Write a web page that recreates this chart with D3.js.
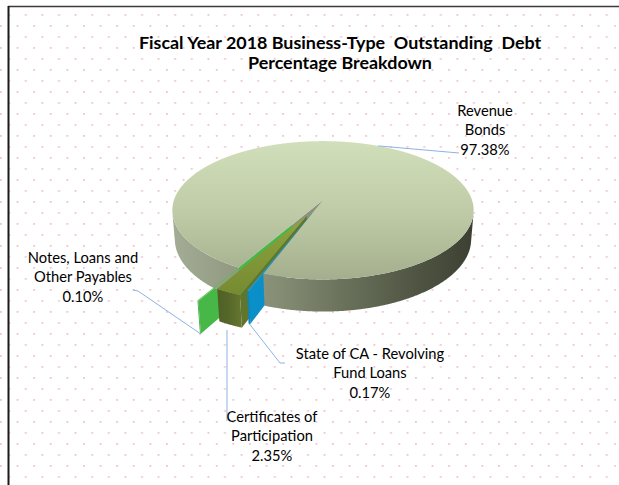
<!DOCTYPE html>
<html lang="en">
<head>
<meta charset="UTF-8">
<title>Fiscal Year 2018 Business-Type Outstanding Debt</title>
<script src="https://d3js.org/d3.v7.min.js"></script>
<style>
    body { margin: 0; background: #fff; }
    svg { display: block; font-family: Lato, "Open Sans", sans-serif; }
</style>
</head>
<body>
<svg width="619" height="485"></svg>
<script>
    // slices in clockwise order
    const categories = ["Revenue Bonds", "State of CA - Revolving Fund Loans", "Certificates of Participation", "Notes, Loans and Other Payables"];
    const shares = [97.38, 0.17, 2.35, 0.10];
    const labelLines = [["Revenue", "Bonds"], ["State of CA - Revolving", "Fund Loans"], ["Certificates of", "Participation"], ["Notes, Loans and", "Other Payables"]];
    const titleLines = ["Fiscal Year 2018 Business-Type  Outstanding  Debt", "Percentage Breakdown"];

    const deg = Math.PI / 180;
    const svg = d3.select("svg");
    const defs = svg.append("defs");

    // perspective view of the pie (unit radius, top face at h = 0)
    const cx = 323, cy = 200, R = 149, dist = 6, depth = 0.22;
    const sT = Math.sin(27 * deg), cT = Math.cos(27 * deg);
    function proj(u, v, h) {
        const k = dist / (dist - v * cT - h * sT);
        return [cx + R * u * k, cy + R * (v * sT - h * cT) * k];
    }

    // background: white with pink dot pattern, frame lines
    const pat = defs.append("pattern").attr("id", "dots")
        .attr("patternUnits", "userSpaceOnUse").attr("width", 16.6).attr("height", 22);
    pat.append("rect").attr("x", 0).attr("y", 3).attr("width", 1.8).attr("height", 1.8).attr("fill", "#efc3cd");
    pat.append("rect").attr("x", 8.3).attr("y", 14).attr("width", 1.8).attr("height", 1.8).attr("fill", "#efc3cd");
    svg.append("rect").attr("width", 619).attr("height", 485).attr("fill", "#fff");
    svg.append("rect").attr("y", 7).attr("width", 619).attr("height", 478).attr("fill", "url(#dots)");
    svg.append("line").attr("x1", 8).attr("x2", 619).attr("y1", 6.5).attr("y2", 6.5)
        .attr("stroke", "#3a3a3a").attr("stroke-width", 1.5);
    svg.append("line").attr("x1", 8.5).attr("x2", 8.5).attr("y1", 6).attr("y2", 485)
        .attr("stroke", "#1a1a1a").attr("stroke-width", 2);

    function linGrad(id, x1, y1, x2, y2, stops) {
        const g = defs.append("linearGradient").attr("id", id).attr("gradientUnits", "userSpaceOnUse")
            .attr("x1", x1).attr("y1", y1).attr("x2", x2).attr("y2", y2);
        stops.forEach(s => g.append("stop").attr("offset", s[0]).attr("stop-color", s[1]));
    }
    linGrad("rbTop", 0, 140, 0, 285, [[0, "#d2dfbb"], [0.5, "#bfcba7"], [1, "#a2ac8b"]]);
    linGrad("rbWall", 172, 0, 475, 0, [[0, "#a3ac94"], [0.35, "#858d75"], [0.65, "#606752"], [1, "#3b3f31"]]);
    linGrad("certTop", 0, 215, 0, 295, [[0, "#8ea53f"], [1, "#768a31"]]);
    linGrad("certWall", 212, 0, 242, 0, [[0, "#4d5d23"], [0.55, "#56672a"], [1, "#65772f"]]);

    const styles = [
        { top: "url(#rbTop)", wall: "url(#rbWall)", face: "#8c927c", explode: 0 },
        { top: "#1b9bd2", wall: "#0a86bd", face: "#0b8fc8", explode: 0.2 },
        { top: "url(#certTop)", wall: "url(#certWall)", face: "#62752d", explode: 0.25 },
        { top: "#58c04e", wall: "#3fae45", face: "#47b747", explode: 0.4 }
    ];

    // turn the pie so the certificates slice points to the lower left
    const total = d3.sum(shares);
    const startAngle = (205 - 360 * (shares[0] + shares[1] + shares[2] / 2) / total) * deg;
    const arcs = d3.pie().sort(null).value(d => d)
        .startAngle(startAngle).endAngle(startAngle + 2 * Math.PI)(shares);
    arcs.forEach((d, i) => {
        d.mid = (d.startAngle + d.endAngle) / 2;
        const e = styles[i].explode;
        d.off = [e * Math.sin(d.mid), -e * Math.cos(d.mid)];
    });

    function pt(d, r, a, h) {
        return proj(d.off[0] + r * Math.sin(a), d.off[1] - r * Math.cos(a), h);
    }
    function sweep(a0, a1) {
        const n = Math.max(2, Math.ceil(Math.abs(a1 - a0) / (0.25 * deg)));
        return d3.range(n + 1).map(i => a0 + (a1 - a0) * i / n);
    }
    const line = d3.line();

    function topPath(d) {
        return line([pt(d, 0, 0, 0)].concat(sweep(d.startAngle, d.endAngle).map(a => pt(d, 1, a, 0)))) + "Z";
    }
    function facePath(d, a) {
        return line([pt(d, 0, a, 0), pt(d, 1, a, 0), pt(d, 1, a, -depth), pt(d, 0, a, -depth)]) + "Z";
    }
    // outer wall, only the stretches that face the camera
    function wallPaths(d) {
        const seen = a => {
            const n = [Math.sin(a), -Math.cos(a)];
            return dist * cT * n[1] - (d.off[0] * n[0] + d.off[1] * n[1] + 1) > 0;
        };
        const runs = [];
        let cur = null;
        sweep(d.startAngle, d.endAngle).forEach(a => {
            if (seen(a)) { if (!cur) { cur = []; runs.push(cur); } cur.push(a); }
            else cur = null;
        });
        return runs.filter(r => r.length > 1).map(r =>
            line(r.map(a => pt(d, 1, a, 0)).concat(r.slice().reverse().map(a => pt(d, 1, a, -depth)))) + "Z");
    }

    const pieG = svg.append("g");
    const [rb, state, cert, notes] = arcs;

    function drawWalls(d, i) {
        wallPaths(d).forEach(p => pieG.append("path").attr("d", p).attr("fill", styles[i].wall));
    }

    // back to front: cut faces first, then the big slice, then the exploded ones
    pieG.append("path").attr("d", facePath(rb, rb.startAngle)).attr("fill", styles[0].face);
    pieG.append("path").attr("d", facePath(notes, notes.startAngle)).attr("fill", styles[3].face);
    pieG.append("path").attr("d", facePath(cert, cert.startAngle)).attr("fill", styles[2].face);
    pieG.append("path").attr("d", facePath(state, state.startAngle)).attr("fill", styles[1].face);
    drawWalls(rb, 0);
    pieG.append("path").attr("d", topPath(rb)).attr("fill", styles[0].top);
    drawWalls(state, 1);
    pieG.append("path").attr("d", topPath(state)).attr("fill", styles[1].top);
    drawWalls(notes, 3);
    pieG.append("path").attr("d", topPath(notes)).attr("fill", styles[3].top);
    drawWalls(cert, 2);
    pieG.append("path").attr("d", topPath(cert)).attr("fill", styles[2].top);

    // fit font sizes to the reference text widths
    function fitSize(text, weight, target, base) {
        const t = svg.append("text").attr("font-size", base).attr("font-weight", weight)
            .style("white-space", "pre").text(text);
        const w = t.node().getComputedTextLength();
        t.remove();
        return base * target / w;
    }
    const titleSize = fitSize(titleLines[1], "bold", 184, 18);
    const labelSize = fitSize("Certificates of", "normal", 91, 16);

    svg.append("g").selectAll("text").data(titleLines).join("text")
        .attr("x", 340).attr("y", (d, i) => 49 + i * 20)
        .attr("text-anchor", "middle").attr("font-weight", "bold")
        .attr("font-size", titleSize).attr("fill", "#000")
        .style("white-space", "pre").text(d => d);

    // labels: centre x, first baseline, leader line end points
    const fmt = d3.format(".2f");
    const labelPos = [
        { x: 485, y: 116, leader: [[459, 153]] },
        { x: 370, y: 359, leader: [[280, 363], [285, 363]] },
        { x: 272, y: 422, leader: [[227, 330], [227, 421]] },
        { x: 83, y: 263, leader: [[138, 291], [133, 290]] }
    ];
    arcs.forEach((d, i) => {
        const anchor = i === 0 ? pt(d, 1, d.mid, 0) : pt(d, 1, d.mid, -depth);
        const pts = i === 2 ? labelPos[i].leader : [anchor].concat(labelPos[i].leader);
        svg.append("path").attr("d", line(pts)).attr("fill", "none")
            .attr("stroke", "#8db3e2").attr("stroke-width", 1);
    });
    const lab = svg.append("g").attr("font-size", labelSize).attr("fill", "#000").attr("text-anchor", "middle");
    arcs.forEach((d, i) => {
        const lines = labelLines[i].concat([fmt(shares[i]) + "%"]);
        lines.forEach((t, j) => {
            lab.append("text").attr("x", labelPos[i].x).attr("y", labelPos[i].y + j * 19.3).text(t);
        });
    });
</script>
</body>
</html>
